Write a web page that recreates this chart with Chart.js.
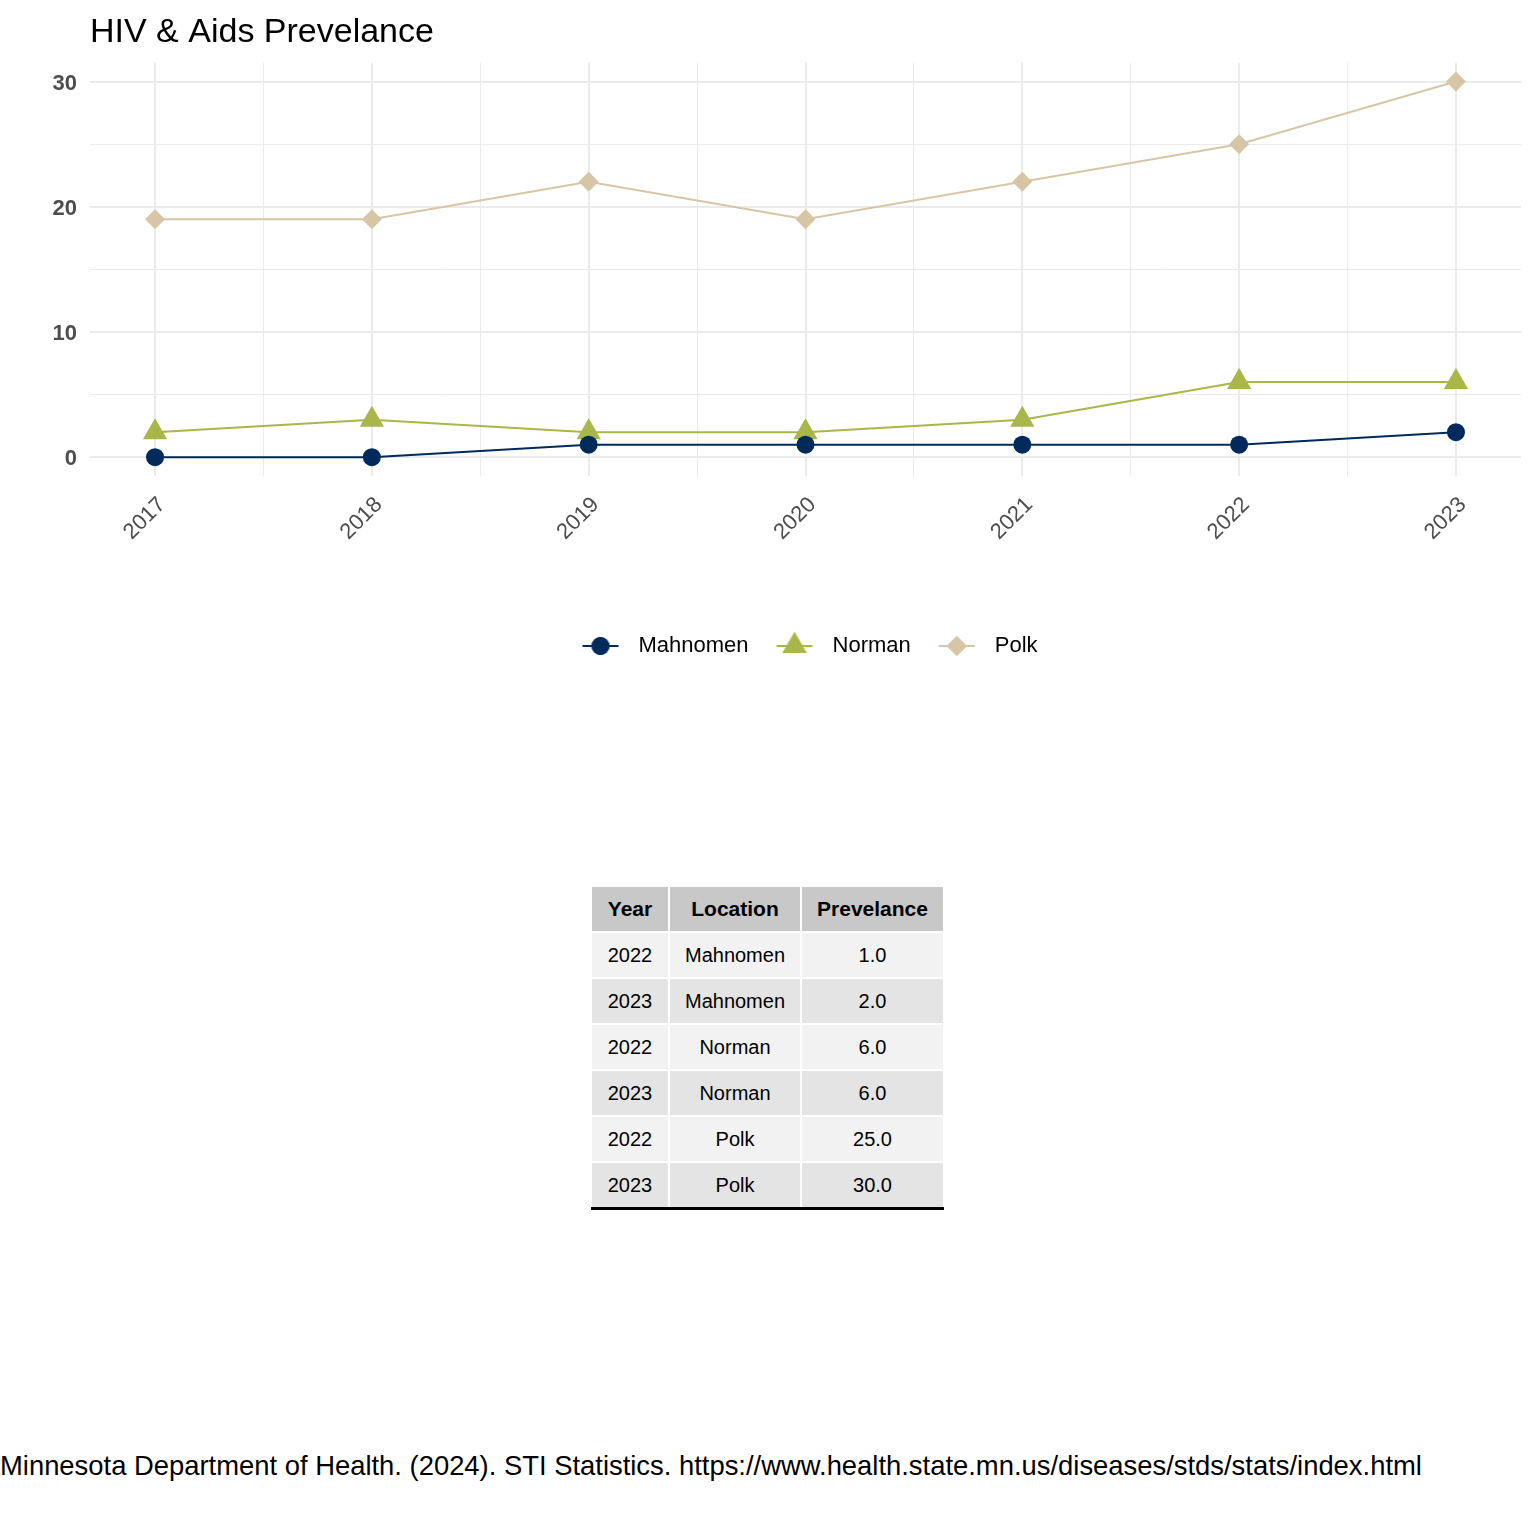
<!DOCTYPE html>
<html>
<head>
<meta charset="utf-8">
<script src="https://cdn.jsdelivr.net/npm/chart.js@4.4.1/dist/chart.umd.min.js"></script>
<style>
  body { margin: 0; background: #fff; font-family: "Liberation Sans", Arial, sans-serif; }
  #wrap { position: relative; width: 1536px; height: 1536px; }
  #chart { position: absolute; left: 0; top: 0; }
  #tbl { position: absolute; left: 590px; top: 885px; border-collapse: separate; border-spacing: 2px; }
  #tbl th, #tbl td { height: 44px; padding: 0; text-align: center; font-size: 20px; color: #000; }
  #tbl th { background: #c8c8c8; font-weight: bold; font-size: 21px; }
  #tbl tr.odd td { background: #f2f2f2; }
  #tbl tr.even td { background: #e4e4e4; }
  #rule { position: absolute; left: 591px; top: 1207px; width: 353px; height: 3px; background: #000; }
  #caption { position: absolute; left: 0; top: 1452px; font-size: 27.4px; line-height: 27.4px; white-space: nowrap; color: #000; }
</style>
</head>
<body>
<div id="wrap">
  <canvas id="chart" width="1536" height="700"></canvas>
  <table id="tbl"><thead><tr id="head"></tr></thead><tbody id="body"></tbody></table>
  <div id="rule"></div>
  <div id="caption">Minnesota Department of Health. (2024). STI Statistics. https://www.health.state.mn.us/diseases/stds/stats/index.html</div>
</div>
<script>
const FONT = '"Liberation Sans", Arial, sans-serif';

// chart data
const years = [2017, 2018, 2019, 2020, 2021, 2022, 2023];
const mahnomen = [0, 0, 1, 1, 1, 1, 2];
const norman = [2, 3, 2, 2, 3, 6, 6];
const polk = [19, 19, 22, 19, 22, 25, 30];
const yTickLabels = [0, 10, 20, 30];

// table data
const tableHead = ['Year', 'Location', 'Prevelance'];
const tableYears = [2022, 2023, 2022, 2023, 2022, 2023];
const tableLocations = ['Mahnomen', 'Mahnomen', 'Norman', 'Norman', 'Polk', 'Polk'];
const tableValues = [1, 2, 6, 6, 25, 30];

const colors = { Mahnomen: '#002a5c', Norman: '#a9b64a', Polk: '#d6c6a5' };

// table
const colWidths = [76, 130, 141];
document.getElementById('head').innerHTML = tableHead
    .map((h, i) => `<th style="width:${colWidths[i]}px">${h}</th>`).join('');
document.getElementById('body').innerHTML = tableYears.map((y, i) =>
    `<tr class="${i % 2 ? 'even' : 'odd'}"><td>${y}</td><td>${tableLocations[i]}</td><td>${tableValues[i].toFixed(1)}</td></tr>`
).join('');

// grid: majors on years, minors half way between
const xGrid = [];
years.forEach((y, i) => {
    xGrid.push(y);
    if (i < years.length - 1) xGrid.push(y + 0.5);
});
const yGrid = [];
yTickLabels.forEach((v, i) => {
    yGrid.push(v);
    if (i < yTickLabels.length - 1) yGrid.push(v + 5);
});

// little legend icons: line with the marker on it
function legendIcon(color, style, r) {
    const c = document.createElement('canvas');
    c.width = 54; c.height = 30;
    const g = c.getContext('2d');
    g.strokeStyle = color;
    g.lineWidth = 2;
    g.beginPath(); g.moveTo(9, 15); g.lineTo(45, 15); g.stroke();
    g.fillStyle = color;
    Chart.helpers.drawPoint(g, { pointStyle: style, radius: r, rotation: 0, borderWidth: 0 }, 27, 15);
    g.fill();
    return c;
}

function series(label, values, style, r) {
    return {
        label: label,
        data: years.map((y, i) => ({ x: y, y: values[i] })),
        borderColor: colors[label],
        backgroundColor: colors[label],
        borderWidth: 2,
        tension: 0,
        pointStyle: style,
        pointRadius: r,
        pointBorderWidth: 0,
        pointBackgroundColor: colors[label],
        icon: legendIcon(colors[label], style, r)
    };
}

new Chart(document.getElementById('chart'), {
    type: 'line',
    data: {
        datasets: [
            series('Mahnomen', mahnomen, 'circle', 9),
            series('Norman', norman, 'triangle', 14),
            series('Polk', polk, 'rectRot', 10)
        ]
    },
    options: {
        responsive: false,
        animation: false,
        devicePixelRatio: 1,
        layout: { padding: { left: 0, right: 15, top: 0, bottom: 33 } },
        plugins: {
            title: {
                display: true,
                text: 'HIV & Aids Prevelance',
                align: 'start',
                fullSize: false,
                color: '#000',
                font: { size: 34, family: FONT, weight: 'normal' },
                padding: { top: 12, bottom: 10 }
            },
            legend: {
                position: 'bottom',
                fullSize: false,
                labels: {
                    usePointStyle: true,
                    pointStyleWidth: 54,
                    padding: 19,
                    color: '#000',
                    font: { size: 22, family: FONT },
                    generateLabels: chart => chart.data.datasets.map((ds, i) => ({
                        text: ds.label,
                        pointStyle: ds.icon,
                        fillStyle: ds.borderColor,
                        strokeStyle: ds.borderColor,
                        lineWidth: 0,
                        fontColor: '#000',
                        datasetIndex: i
                    }))
                }
            },
            tooltip: { enabled: false }
        },
        scales: {
            x: {
                type: 'linear',
                min: 2016.7,
                max: 2023.3,
                afterBuildTicks: s => { s.ticks = xGrid.map(v => ({ value: v })); },
                afterFit: s => { s.height = 140; },
                border: { display: false },
                grid: {
                    drawTicks: false,
                    color: '#ebebeb',
                    lineWidth: c => (Number.isInteger(c.tick.value) ? 2 : 1)
                },
                ticks: {
                    autoSkip: false,
                    minRotation: 45,
                    maxRotation: 45,
                    labelOffset: 7,
                    padding: 16,
                    color: '#4d4d4d',
                    font: { size: 22, family: FONT },
                    callback: v => (Number.isInteger(v) ? String(v) : '')
                }
            },
            y: {
                min: -1.5,
                max: 31.5,
                afterBuildTicks: s => { s.ticks = yGrid.map(v => ({ value: v })); },
                afterFit: s => { s.width = 90; },
                border: { display: false },
                grid: {
                    drawTicks: false,
                    color: '#ebebeb',
                    lineWidth: c => (c.tick.value % 10 === 0 ? 2 : 1)
                },
                ticks: {
                    padding: 13,
                    labelOffset: 2,
                    color: '#4d4d4d',
                    font: { size: 22, family: FONT, weight: 'bold' },
                    callback: v => (v % 10 === 0 ? String(v) : '')
                }
            }
        }
    }
});
</script>
</body>
</html>
